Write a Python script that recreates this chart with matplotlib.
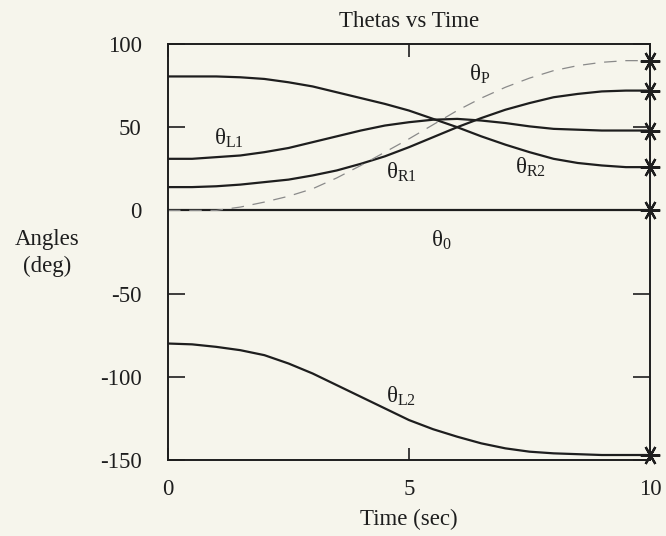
import numpy as np
import matplotlib
matplotlib.use('Agg')
import matplotlib.pyplot as plt

plt.rcParams['font.family'] = ['Liberation Serif', 'DejaVu Serif']
plt.rcParams['mathtext.fontset'] = 'custom'
plt.rcParams['mathtext.rm'] = 'Liberation Serif'
plt.rcParams['mathtext.it'] = 'Liberation Serif'
plt.rcParams['mathtext.default'] = 'regular'
plt.rcParams['axes.unicode_minus'] = False

# Datos (cada medio segundo)
t = np.arange(0, 10.5, 0.5)
theta_L1 = [31, 31, 32, 33, 35, 37.5, 41, 44.5, 48, 51, 53, 54.5, 55, 54, 52.5,
            50.5, 49, 48.5, 48, 48, 48]
theta_R1 = [14, 14, 14.5, 15.5, 17, 18.5, 21, 24, 28, 32.5, 38, 44, 50, 55.5, 60.5,
            64.5, 68, 70, 71.5, 72, 72]
theta_R2 = [80.5, 80.5, 80.5, 80, 79, 77, 74.5, 71, 67.5, 64, 60, 55, 50, 44.5, 39.5,
            35, 31, 28.5, 27, 26, 26]
theta_P = [0, 0, 0, 2, 5, 8.5, 13, 19.5, 27, 35, 43, 51.5, 60, 67.5, 74,
           79.5, 84, 87, 89, 90, 90]
theta_0 = [0] * 21
theta_L2 = [-80, -80.5, -82, -84, -87, -92, -98, -105, -112, -119, -126, -131.5, -136,
            -140, -143, -145, -146, -146.5, -147, -147, -147]

bg = '#f6f5ec'
ink = '#1e1e1e'

fig = plt.figure(figsize=(6.66, 5.36), dpi=100, facecolor=bg)
ax = fig.add_axes([168/666, 1-460/536, (650-168)/666, (460-44)/536])
ax.set_facecolor(bg)

for y in [theta_L1, theta_R1, theta_R2, theta_0, theta_L2]:
    ax.plot(t, y, color=ink, lw=1.6)
ax.plot(t, theta_P, color='#8a8a8a', lw=0.9, dashes=(10, 7))

# asteriscos al final
ends = [theta_P[-1], theta_R1[-1], theta_L1[-1], theta_R2[-1], theta_0[-1], theta_L2[-1]]
ax.plot([t[-1]]*len(ends), ends, ls='none', marker=(6, 2, 30), ms=14, mec=ink, mew=1.6,
        clip_on=False)

fs = 16.5
ax.text(0.95, 43, r'$\theta_{L1}$', fontsize=fs, color=ink, va='center')
ax.text(4.52, 23, r'$\theta_{R1}$', fontsize=fs, color=ink, va='center')
ax.text(7.2, 26, r'$\theta_{R2}$', fontsize=fs, color=ink, va='center')
ax.text(6.25, 82, r'$\theta_{P}$', fontsize=fs, color=ink, va='center')
ax.text(5.45, -18, r'$\theta_{0}$', fontsize=fs, color=ink, va='center')
ax.text(4.52, -112, r'$\theta_{L2}$', fontsize=fs, color=ink, va='center')

ax.set_xlim(0, 10)
ax.set_ylim(-150, 100)
ax.set_xticks([0, 5, 10])
ax.set_yticks([-150, -100, -50, 0, 50, 100])
ax.tick_params(axis='y', direction='in', length=12, width=1.2, right=True,
               labelsize=fs, colors=ink, pad=19)
ax.tick_params(axis='x', direction='in', length=9, width=1.2, top=True,
               labelsize=fs, colors=ink, pad=14)
for s in ax.spines.values():
    s.set_linewidth(1.4)
    s.set_color(ink)

ax.set_title('Thetas vs Time', fontsize=fs, color=ink, pad=12)
ax.set_xlabel('Time (sec)', fontsize=fs, color=ink, labelpad=6)
fig.text(47/666, 1-253/536, 'Angles\n(deg)', fontsize=fs, color=ink,
         ha='center', va='center', linespacing=1.4)

fig.savefig('out.png', dpi=100, facecolor=bg)
